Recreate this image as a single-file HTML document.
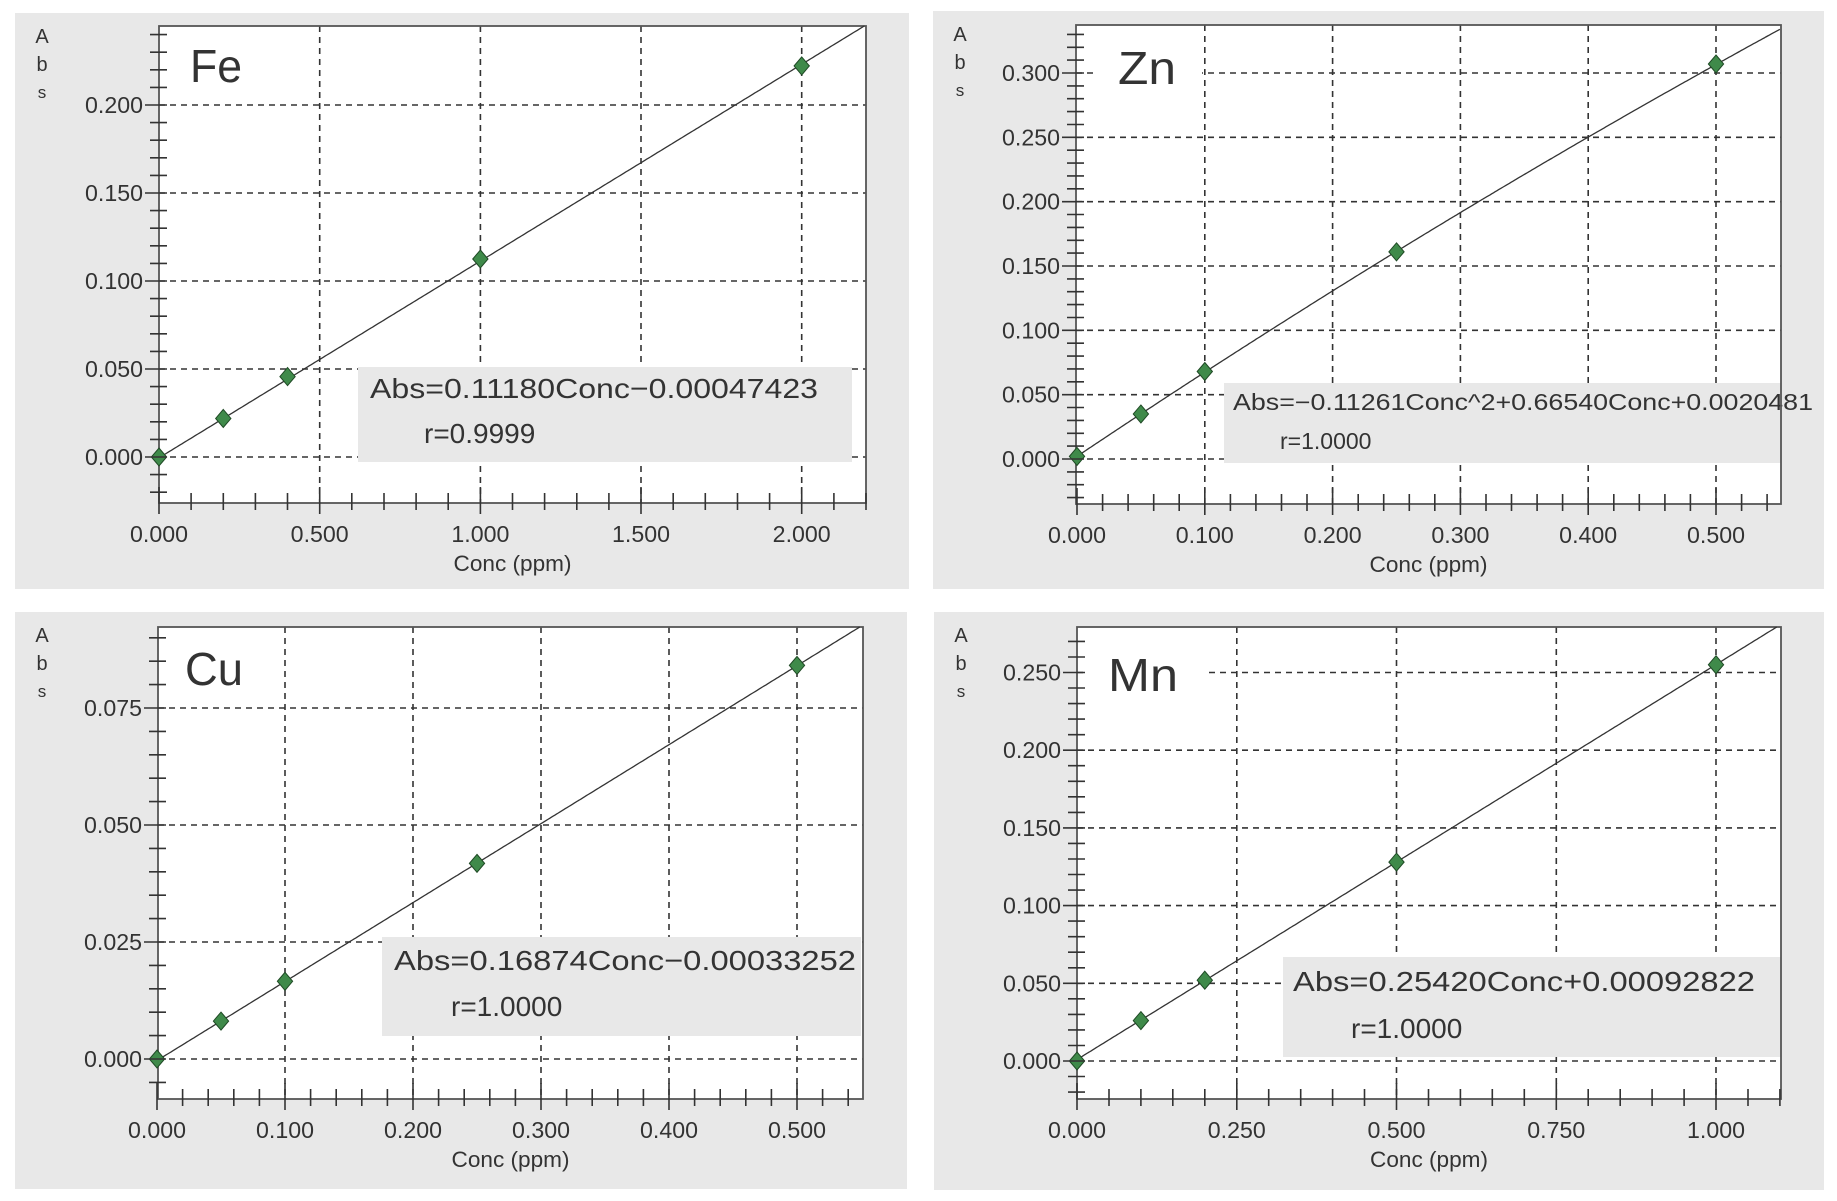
<!DOCTYPE html>
<html><head><meta charset="utf-8"><style>
html,body{margin:0;padding:0;background:#fff;}
svg{display:block;}
text{font-family:"Liberation Sans",sans-serif;fill:#333;}
</style></head><body>
<svg id="s" width="1837" height="1201" viewBox="0 0 1837 1201" xmlns="http://www.w3.org/2000/svg">
<rect x="0" y="0" width="1837" height="1201" fill="#fff"/>
</svg>
<script>
const S=document.getElementById('s');
let out='';
const P=[
 {name:'Fe',g:[15,13,909,589],L:159,T:26,R:866,B:503,x0:159,sx:(866-159)/2.2,y0:457,sy:(457-105)/0.2,
  xmaj:[0,0.5,1,1.5,2],xmin:0.1,xmax:2.2,ymaj:[0,0.05,0.1,0.15,0.2],ymin:0.01,yr:[-0.026,0.245],
  pts:[[0,0],[0.2,0.0219],[0.4,0.0457],[1,0.1125],[2,0.2222]],f:x=>0.1118*x-0.00047423,
  lab:[190,82],lbw:0,box:[358,367,852,462],t1:'Abs=0.11180Conc\u22120.00047423',t1x:370,t1y:398,t1w:448,fs:28,t2:'r=0.9999',t2x:424,t2y:443},
 {name:'Zn',g:[933,11,1824,589],L:1076,T:25,R:1781,B:504,x0:1077,sx:(1716-1077)/0.5,y0:459,sy:(459-73)/0.3,
  xmaj:[0,0.1,0.2,0.3,0.4,0.5],xmin:0.02,xmax:0.55,ymaj:[0,0.05,0.1,0.15,0.2,0.25,0.3],ymin:0.01,yr:[-0.035,0.337],
  pts:[[0,0.002],[0.05,0.035],[0.1,0.068],[0.25,0.161],[0.5,0.307]],f:x=>-0.11261*x*x+0.6654*x+0.0020481,
  lab:[1118,84],lbw:1,box:[1224,383,1824,463],t1:'Abs=\u22120.11261Conc^2+0.66540Conc+0.0020481',t1x:1233,t1y:410,t1w:580,fs:23,t2:'r=1.0000',t2x:1280,t2y:449},
 {name:'Cu',g:[15,612,907,1189],L:158,T:627,R:863,B:1099,x0:157,sx:(797-157)/0.5,y0:1059,sy:(1059-708)/0.075,
  xmaj:[0,0.1,0.2,0.3,0.4,0.5],xmin:0.02,xmax:0.55,ymaj:[0,0.025,0.05,0.075],ymin:0.005,yr:[-0.0085,0.0923],
  pts:[[0,0],[0.05,0.0081],[0.1,0.0166],[0.25,0.0418],[0.5,0.0841]],f:x=>0.16874*x-0.00033252,
  lab:[185,685],lbw:0,box:[382,937,861,1036],t1:'Abs=0.16874Conc\u22120.00033252',t1x:394,t1y:970,t1w:462,fs:28,t2:'r=1.0000',t2x:451,t2y:1016},
 {name:'Mn',g:[934,612,1824,1190],L:1077,T:627,R:1781,B:1099,x0:1077,sx:(1716-1077)/1.0,y0:1061,sy:(1061-672.5)/0.25,
  xmaj:[0,0.25,0.5,0.75,1],xmin:0.05,xmax:1.1,ymaj:[0,0.05,0.1,0.15,0.2,0.25],ymin:0.01,yr:[-0.023,0.279],
  pts:[[0,0],[0.1,0.026],[0.2,0.052],[0.5,0.128],[1,0.255]],f:x=>0.2542*x+0.00092822,
  lab:[1108,691],lbw:1,box:[1283,957,1783,1057],t1:'Abs=0.25420Conc+0.00092822',t1x:1293,t1y:991,t1w:462,fs:28,t2:'r=1.0000',t2x:1351,t2y:1038}
];
const C='#333';
for(const p of P){
 const X=v=>p.x0+v*p.sx, Y=v=>p.y0-v*p.sy;
 const [gx1,gy1,gx2,gy2]=p.g;
 out+=`<rect x="${gx1}" y="${gy1}" width="${gx2-gx1}" height="${gy2-gy1}" fill="#e8e8e8"/>`;
 out+=`<rect x="${p.L}" y="${p.T}" width="${p.R-p.L}" height="${p.B-p.T}" fill="#fff"/>`;
 for(const v of p.ymaj){const y=Y(v).toFixed(1);out+=`<line x1="${p.L}" y1="${y}" x2="${p.R}" y2="${y}" stroke="${C}" stroke-width="1.6" stroke-dasharray="6,5"/>`;}
 for(const v of p.xmaj){if(v===0)continue;const x=X(v).toFixed(1);out+=`<line x1="${x}" y1="${p.T}" x2="${x}" y2="${p.B}" stroke="${C}" stroke-width="1.6" stroke-dasharray="6,5"/>`;}
 if(p.lbw) out+=`<rect x="${p.lab[0]-22}" y="${p.lab[1]-40}" width="${p.name=='Zn'?106:120}" height="50" fill="#fff"/>`;
 out+=`<text x="${p.lab[0]}" y="${p.lab[1]}" font-size="46" style="font-family:'Liberation Sans',sans-serif;fill:#333" textLength="${p.name=='Mn'?70:(p.name=='Fe'?52:58)}" lengthAdjust="spacingAndGlyphs">${p.name}</text>`;
 const b=p.box;
 out+=`<rect x="${b[0]}" y="${b[1]}" width="${b[2]-b[0]}" height="${b[3]-b[1]}" fill="#e8e8e8"/>`;
 out+=`<text x="${p.t1x}" y="${p.t1y}" font-size="${p.fs}" textLength="${p.t1w}" lengthAdjust="spacingAndGlyphs">${p.t1}</text>`;
 out+=`<text x="${p.t2x}" y="${p.t2y}" font-size="${p.fs}">${p.t2}</text>`;
 out+=`<rect x="${p.L}" y="${p.T}" width="${p.R-p.L}" height="${p.B-p.T}" fill="none" stroke="#555" stroke-width="1.8"/>`;
 // curve, fine sampling, clipped to top
 let d='';const n=400;let prev=null;
 for(let i=0;i<=n;i++){const xv=p.xmax*i/n;const xp=X(xv),yp=Y(p.f(xv));
   if(yp<p.T){ if(prev){const t=(prev[1]-p.T)/(prev[1]-yp);d+='L'+(prev[0]+t*(xp-prev[0])).toFixed(1)+','+p.T;} break;}
   d+=(d?'L':'M')+xp.toFixed(1)+','+yp.toFixed(1);prev=[xp,yp];}
 out+=`<path d="${d}" fill="none" stroke="#333" stroke-width="1.3"/>`;
 for(const [xv,yv] of p.pts){const x=X(xv),y=Y(yv),r=9;
  out+=`<polygon points="${x},${y-r} ${x+r*0.85},${y} ${x},${y+r} ${x-r*0.85},${y}" fill="#3f8a4a" stroke="#1f4a25" stroke-width="1"/>`;}
 const eps=1e-9;
 for(let v=Math.ceil(p.yr[0]/p.ymin)*p.ymin;v<=p.yr[1];v+=p.ymin){
   const y=Y(v);if(y<p.T-1||y>p.B-3)continue;
   const maj=p.ymaj.some(m=>Math.abs(m-v)<eps*100);
   out+=`<line x1="${maj?p.L-14:p.L-9}" y1="${y.toFixed(1)}" x2="${p.L+8}" y2="${y.toFixed(1)}" stroke="${C}" stroke-width="1.6"/>`;
 }
 for(const v of p.ymaj){out+=`<text x="${p.L-16}" y="${(Y(v)+8).toFixed(1)}" font-size="23" text-anchor="end" textLength="58" lengthAdjust="spacingAndGlyphs">${v.toFixed(3)}</text>`;}
 for(let k=0;k*p.xmin<=p.xmax+eps;k++){const v=k*p.xmin;const x=X(v);
   const maj=p.xmaj.some(m=>Math.abs(m-v)<1e-6);
   out+=`<line x1="${x.toFixed(1)}" y1="${maj?p.B-16:p.B-10}" x2="${x.toFixed(1)}" y2="${maj?p.B+11:p.B+7}" stroke="${C}" stroke-width="1.6"/>`;}
 for(const v of p.xmaj){out+=`<text x="${X(v).toFixed(1)}" y="${p.B+39}" font-size="23" text-anchor="middle" textLength="58" lengthAdjust="spacingAndGlyphs">${v.toFixed(3)}</text>`;}
 out+=`<text x="${(p.L+p.R)/2}" y="${p.B+68}" font-size="22" text-anchor="middle" textLength="118" lengthAdjust="spacingAndGlyphs">Conc (ppm)</text>`;
 const ax=gx1+27, ay=gy1+30;
 out+=`<text x="${ax}" y="${ay}" font-size="20" text-anchor="middle">A</text><text x="${ax}" y="${ay+28}" font-size="20" text-anchor="middle">b</text><text x="${ax}" y="${ay+55}" font-size="17" text-anchor="middle">s</text>`;
}
S.insertAdjacentHTML('beforeend',out);
</script>
</body></html>
